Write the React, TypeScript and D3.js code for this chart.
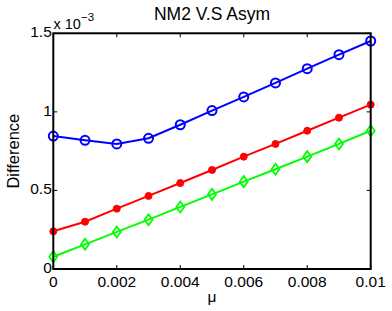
import React from 'react';
import * as d3 from 'd3';

const mu = [0, 0.001, 0.002, 0.003, 0.004, 0.005, 0.006, 0.007, 0.008, 0.009, 0.01];
const blueVals = [0.846, 0.819, 0.796, 0.832, 0.918, 1.008, 1.095, 1.184, 1.275, 1.364, 1.451];
const redVals = [0.24, 0.301, 0.384, 0.465, 0.547, 0.63, 0.715, 0.796, 0.88, 0.963, 1.046];
const greenVals = [0.078, 0.157, 0.236, 0.314, 0.395, 0.475, 0.556, 0.635, 0.715, 0.796, 0.88];
const xTicks = [0, 0.002, 0.004, 0.006, 0.008, 0.01];
const xTickLabels = ['0', '0.002', '0.004', '0.006', '0.008', '0.01'];
const yTicks = [0, 0.5, 1, 1.5];
const yTickLabels = ['0', '0.5', '1', '1.5'];

const W = 392;
const H = 311;
const left = 53.3;
const right = 370.7;
const top = 33.3;
const bottom = 269;
const font = 'Liberation Sans, Arial, sans-serif';
const fs = 15.5;

export default function App() {
  const x = d3.scaleLinear().domain([0, 0.01]).range([left, right]);
  const y = d3.scaleLinear().domain([0, 1.5]).range([bottom, top]);
  const line = d3.line<number>().x((_, i) => x(mu[i])).y(d => y(d));
  const tickLen = 4;

  return (
    <svg width={W} height={H} style={{ position: 'absolute', left: 0, top: 0, background: '#fff' }}>
      <text x={212} y={20} textAnchor="middle" fontFamily={font} fontSize={17.5}>NM2 V.S Asym</text>
      {xTicks.map((t, i) => (
        <g key={'xt' + i}>
          <line x1={x(t)} x2={x(t)} y1={bottom} y2={bottom - tickLen} stroke="#000" strokeWidth={1} />
          <line x1={x(t)} x2={x(t)} y1={top} y2={top + tickLen} stroke="#000" strokeWidth={1} />
          <text x={x(t)} y={287} textAnchor="middle" fontFamily={font} fontSize={fs}>{xTickLabels[i]}</text>
        </g>
      ))}
      {yTicks.map((t, i) => (
        <g key={'yt' + i}>
          <line x1={left} x2={left + tickLen} y1={y(t)} y2={y(t)} stroke="#000" strokeWidth={1} />
          <line x1={right} x2={right - tickLen} y1={y(t)} y2={y(t)} stroke="#000" strokeWidth={1} />
          <text x={left - 1.5} y={y(t) + 4} textAnchor="end" fontFamily={font} fontSize={fs}>{yTickLabels[i]}</text>
        </g>
      ))}
      <text x={53.5} y={28.5} fontFamily={font} fontSize={14.5}>x 10<tspan dy={-8} fontSize={11.5}>−3</tspan></text>
      <text transform={`translate(18.5,${(top + bottom) / 2}) rotate(-90)`} textAnchor="middle" fontFamily={font} fontSize={16.5}>Difference</text>
      <text x={212} y={302} textAnchor="middle" fontFamily={font} fontSize={fs}>μ</text>

      <path d={line(blueVals) || ''} fill="none" stroke="#0000ff" strokeWidth={2} />
      <path d={line(redVals) || ''} fill="none" stroke="#ff0000" strokeWidth={2} />
      <path d={line(greenVals) || ''} fill="none" stroke="#00ff00" strokeWidth={2} />
      {blueVals.map((v, i) => (
        <circle key={'b' + i} cx={x(mu[i])} cy={y(v)} r={4.5} fill="none" stroke="#0000ff" strokeWidth={2} />
      ))}
      {redVals.map((v, i) => (
        <circle key={'r' + i} cx={x(mu[i])} cy={y(v)} r={3.5} fill="#ff0000" stroke="#ff0000" strokeWidth={1} />
      ))}
      {greenVals.map((v, i) => {
        const cx = x(mu[i]);
        const cy = y(v);
        return (
          <path key={'g' + i} d={`M${cx},${cy - 5.5}L${cx + 4},${cy}L${cx},${cy + 5.5}L${cx - 4},${cy}Z`} fill="none" stroke="#00ff00" strokeWidth={1.8} />
        );
      })}
      <rect x={left} y={top} width={right - left} height={bottom - top} fill="none" stroke="#000" strokeWidth={2} />
    </svg>
  );
}
